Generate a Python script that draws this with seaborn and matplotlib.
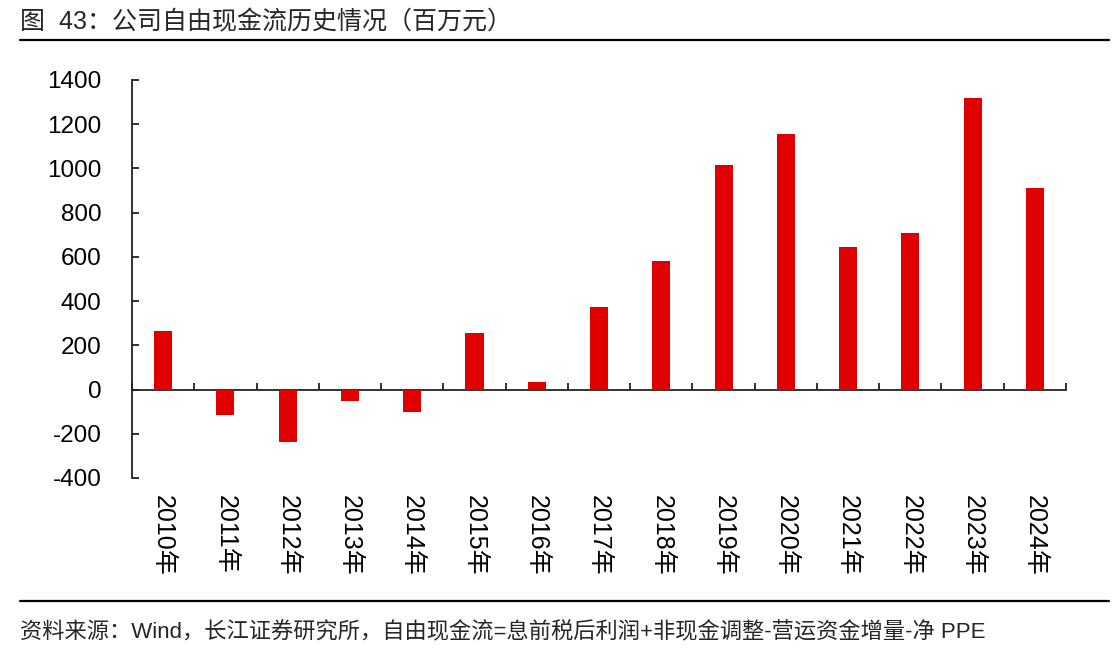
import pandas as pd
import matplotlib.pyplot as plt
import seaborn as sns
from matplotlib.lines import Line2D

sns.set_theme(style="white")
plt.rcParams['font.family'] = ['Liberation Sans', 'Noto Sans CJK SC', 'DejaVu Sans']
plt.rcParams['axes.unicode_minus'] = False

anos = ['2010年', '2011年', '2012年', '2013年', '2014年', '2015年', '2016年', '2017年',
        '2018年', '2019年', '2020年', '2021年', '2022年', '2023年', '2024年']
fcf = [263, -113, -238, -53, -101, 258, 33, 375, 583, 1016, 1156, 644, 708, 1317, 911]
y_ticks = [-400, -200, 0, 200, 400, 600, 800, 1000, 1200, 1400]

df = pd.DataFrame({'ano': anos, 'fcf': fcf})

fig = plt.figure(figsize=(11.2, 6.53), dpi=100)
ax = fig.add_axes([0.1179, 0.268, 0.8339, 0.6095])

sns.barplot(data=df, x='ano', y='fcf', color='#E00000', saturation=1, width=0.29,
            linewidth=0, ax=ax)

ax.set_xlim(-0.5, len(anos) - 0.5)
ax.set_ylim(-400, 1400)
ax.set_yticks(y_ticks)
ax.set_xlabel('')
ax.set_ylabel('')

for s in ['top', 'right', 'bottom']:
    ax.spines[s].set_visible(False)
ax.spines['left'].set_color('#222222')
ax.spines['left'].set_linewidth(1.3)

ax.tick_params(axis='y', direction='in', length=5, width=1.3, color='#222222',
               labelsize=17.5, pad=22, left=True, labelcolor='black')
ax.tick_params(axis='x', length=0, labelsize=18, pad=12, rotation=270, labelcolor='black')
for lab in ax.get_xticklabels():
    lab.set_va('top')
    lab.set_ha('center')

# eixo horizontal no zero com marcas entre categorias
sec = ax.secondary_xaxis(0, transform=ax.transData)
sec.set_xticks([i - 0.5 for i in range(len(anos) + 1)])
sec.set_xticklabels([])
sec.tick_params(direction='in', length=5, width=1.3, color='#222222')
sec.spines['bottom'].set_color('#222222')
sec.spines['bottom'].set_linewidth(1.3)

fig.text(0.018, 0.966, '图  43：公司自由现金流历史情况（百万元）', fontsize=18, va='center', ha='left')
fig.add_artist(Line2D([0.018, 0.99], [0.939, 0.939], color='black', lw=1.6))
fig.add_artist(Line2D([0.018, 0.99], [0.08, 0.08], color='black', lw=1.6))
fig.text(0.018, 0.031, '资料来源：Wind，长江证券研究所，自由现金流=息前税后利润+非现金调整-营运资金增量-净 PPE',
         fontsize=16, va='center', ha='left')

plt.savefig('out.png', dpi=100)
